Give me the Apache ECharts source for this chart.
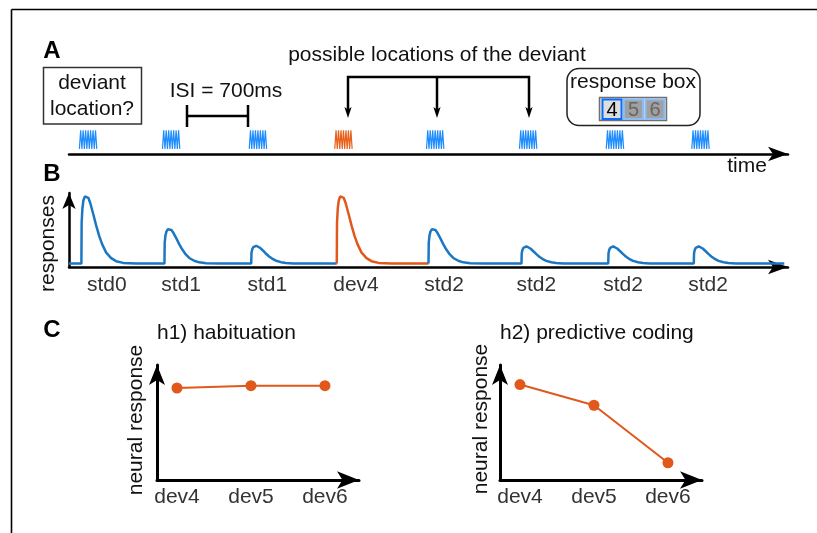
<!DOCTYPE html>
<html><head><meta charset="utf-8">
<script src="https://cdn.jsdelivr.net/npm/echarts@6/dist/echarts.min.js"></script>
<style>html,body{margin:0;padding:0;background:#fff}#c{width:817px;height:533px}</style>
</head><body><div id="c"></div>
<script>
// ---------------- data ----------------
const stimNames = ['std0', 'std1', 'std1', 'dev4', 'std2', 'std2', 'std2', 'std2'];
const stimOnsetsMs = [100, 770, 1470, 2160, 2900, 3650, 4350, 5040];
const stimLabelMs = [305, 905, 1600, 2315, 3025, 3770, 4470, 5155];
const stimAmplitudes = [1.0, 0.51, 0.26, 1.0, 0.51, 0.25, 0.25, 0.25];
const deviantIndex = 3;
const timeEndMs = 5770;
const timeAxisMaxMs = 5800;
// normalised response shape (ms after onset, fraction of peak), read from std0
const pulseShapeMs  = [0, 2, 8, 16, 28, 40, 56, 72, 96, 120, 144, 168, 200, 240, 280, 337, 441];
const pulseShapeVal = [0, 0.6, 0.8, 0.92, 0.98, 1.0, 0.96, 0.88, 0.72, 0.55, 0.40, 0.28, 0.16, 0.08, 0.035, 0.01, 0];
// tone glyph (ms after onset, level)
const toneGlyphMs    = [-16, -6, 4, 14, 24, 34, 44, 54, 64, 74, 84, 94, 104, 114, 124];
const toneGlyphLevel = [0.15, 0.7, 0.15, 0.7, 0.15, 0.7, 0.15, 0.7, 0.15, 0.7, 0.15, 0.7, 0.15, 0.7, 0.15];
// panel C
const devCategories = ['dev4', 'dev5', 'dev6'];
const habituationValues = [0.80, 0.82, 0.82];
const predictiveValues = [0.83, 0.65, 0.15];

// ---------------- styles ----------------
const F = "'Liberation Sans', Arial, Helvetica, sans-serif";
const BLUE = '#1c77c3', ORANGE = '#e0581c', TONE_BLUE = '#1e8cff', TONE_ORANGE = '#e8601c';

function pulsePoints(i) {
  return pulseShapeMs.map((t, k) => [stimOnsetsMs[i] + t, stimAmplitudes[i] * pulseShapeVal[k]]);
}
const blue1 = [[0, 0]];
for (let i = 0; i < deviantIndex; i++) blue1.push(...pulsePoints(i));
blue1.push([stimOnsetsMs[deviantIndex], 0]);
const orange = pulsePoints(deviantIndex);
orange.push([stimOnsetsMs[deviantIndex + 1], 0]);
const blue2 = [];
for (let i = deviantIndex + 1; i < stimOnsetsMs.length; i++) blue2.push(...pulsePoints(i));
blue2.push([timeEndMs, 0]);

const series = [];
stimOnsetsMs.forEach((on, i) => {
  series.push({
    type: 'line', xAxisIndex: 0, yAxisIndex: 0, symbol: 'none', silent: true,
    lineStyle: { color: i === deviantIndex ? TONE_ORANGE : TONE_BLUE, width: 1.2 },
    data: toneGlyphMs.map((t, k) => [on + t, toneGlyphLevel[k]])
  });
});
series.push(
  { type: 'line', xAxisIndex: 1, yAxisIndex: 1, symbol: 'none', data: blue1, lineStyle: { color: BLUE, width: 2.5 } },
  { type: 'line', xAxisIndex: 1, yAxisIndex: 1, symbol: 'none', data: orange, lineStyle: { color: ORANGE, width: 2.5 } },
  { type: 'line', xAxisIndex: 1, yAxisIndex: 1, symbol: 'none', data: blue2, lineStyle: { color: BLUE, width: 2.5 } },
  { type: 'line', xAxisIndex: 2, yAxisIndex: 2, symbol: 'circle', symbolSize: 11,
    itemStyle: { color: ORANGE }, lineStyle: { color: ORANGE, width: 2 },
    data: habituationValues.map((v, i) => [i, v]) },
  { type: 'line', xAxisIndex: 3, yAxisIndex: 3, symbol: 'circle', symbolSize: 11,
    itemStyle: { color: ORANGE }, lineStyle: { color: ORANGE, width: 2 },
    data: predictiveValues.map((v, i) => [i, v]) }
);

function axisLine(w, size) {
  return { show: true, onZero: false, symbol: ['none', 'arrow'], symbolSize: size, lineStyle: { color: '#000', width: w } };
}
const noStuff = { axisTick: { show: false }, splitLine: { show: false } };

const xAxis = [
  Object.assign({ gridIndex: 0, type: 'value', min: 0, max: timeAxisMaxMs, axisLine: axisLine(2.5, [11, 20]), axisLabel: { show: false } }, noStuff),
  Object.assign({ gridIndex: 1, type: 'value', min: 0, max: timeAxisMaxMs, axisLine: axisLine(2.5, [11, 20]),
    axisLabel: { show: true, customValues: stimLabelMs, margin: 8, color: '#333', fontSize: 21, fontFamily: F,
      formatter: (v) => stimNames[stimLabelMs.indexOf(v)] || '' } }, noStuff),
  Object.assign({ gridIndex: 2, type: 'value', min: -0.27, max: 2.46, axisLine: axisLine(3, [13, 22]),
    axisLabel: { show: true, customValues: [0, 1, 2], margin: 7, color: '#333', fontSize: 21, fontFamily: F,
      formatter: (v) => devCategories[v] || '' } }, noStuff),
  Object.assign({ gridIndex: 3, type: 'value', min: -0.27, max: 2.46, axisLine: axisLine(3, [13, 22]),
    axisLabel: { show: true, customValues: [0, 1, 2], margin: 7, color: '#333', fontSize: 21, fontFamily: F,
      formatter: (v) => devCategories[v] || '' } }, noStuff)
];
const yAxis = [
  { gridIndex: 0, type: 'value', min: 0, max: 1, show: false },
  Object.assign({ gridIndex: 1, type: 'value', min: -0.05, max: 1.03, axisLine: axisLine(2.5, [10, 16]), axisLabel: { show: false } }, noStuff),
  Object.assign({ gridIndex: 2, type: 'value', min: 0, max: 1, axisLine: axisLine(3, [12, 20]), axisLabel: { show: false } }, noStuff),
  Object.assign({ gridIndex: 3, type: 'value', min: 0, max: 1, axisLine: axisLine(3, [12, 20]), axisLabel: { show: false } }, noStuff)
];

function txt(text, x, y, o) {
  o = o || {};
  const align = o.align || 'center';
  return { type: 'text', x: x, y: y, rotation: o.rot || 0, z: 100,
    style: { text: text, fill: o.color || '#111', font: (o.weight || 'normal') + ' ' + (o.size || 21) + 'px ' + F,
      textAlign: align, textVerticalAlign: 'middle', align: align, verticalAlign: 'middle' } };
}
function ln(x1, y1, x2, y2, w, c) {
  return { type: 'line', z: 100, shape: { x1, y1, x2, y2 }, style: { stroke: c || '#000', lineWidth: w } };
}
function rect(x, y, w, h, st, r) {
  return { type: 'rect', z: 99, shape: { x, y, width: w, height: h, r: r || 0 }, style: st };
}
function arrowDown(x) {
  return { type: 'polygon', z: 101, shape: { points: [[x - 3.6, 107], [x, 118], [x + 3.6, 107], [x, 109.5]] }, style: { fill: '#000' } };
}

const graphics = [
  ln(11.5, 9.5, 817, 9.5, 1.6), ln(11.5, 9.5, 11.5, 533, 1.6),
  txt('A', 52, 51, { weight: 'bold', size: 24, color: '#000' }),
  txt('B', 52, 174, { weight: 'bold', size: 24, color: '#000' }),
  txt('C', 52, 330, { weight: 'bold', size: 24, color: '#000' }),
  rect(43.5, 67.5, 98, 56.5, { fill: 'none', stroke: '#333', lineWidth: 1.5 }),
  txt('deviant', 92, 83), txt('location?', 92, 109.5),
  txt('ISI = 700ms', 226, 91),
  ln(187, 105, 187, 127, 2.5), ln(248, 105, 248, 127, 2.5), ln(187, 116, 248, 116, 2.5),
  txt('possible locations of the deviant', 437, 55.5),
  { type: 'polyline', z: 100, shape: { points: [[348, 110], [348, 77], [529, 77], [529, 110]] }, style: { stroke: '#000', lineWidth: 2.5, fill: 'none' } },
  ln(437, 77, 437, 110, 2.5),
  arrowDown(348), arrowDown(437), arrowDown(529),
  rect(567, 68.5, 133, 57, { fill: 'none', stroke: '#222', lineWidth: 1.5 }, 12),
  txt('response box', 633, 82),
  rect(599.5, 97.5, 67, 23, { fill: '#e4e4e4', stroke: '#707070', lineWidth: 1.5 }),
  rect(602.5, 99.5, 19, 19.5, { fill: '#dedede', stroke: '#0a6cff', lineWidth: 2 }),
  rect(624, 99.5, 19, 19.5, { fill: '#a0a0a0', stroke: '#8cbcf5', lineWidth: 2 }),
  rect(645.5, 99.5, 19, 19.5, { fill: '#a0a0a0', stroke: '#8cbcf5', lineWidth: 2 }),
  txt('4', 612, 110, { size: 20, color: '#000' }),
  txt('5', 633.5, 110, { size: 20, color: '#666' }),
  txt('6', 655, 110, { size: 20, color: '#666' }),
  txt('time', 747, 166),
  txt('responses', 48, 243.5, { rot: Math.PI / 2 }),
  txt('h1) habituation', 157, 333, { align: 'left' }),
  txt('h2) predictive coding', 500, 333, { align: 'left' }),
  txt('neural response', 136, 420, { rot: Math.PI / 2 }),
  txt('neural response', 481, 419, { rot: Math.PI / 2 })
];

const chart = echarts.init(document.getElementById('c'), null, { renderer: 'canvas' });
chart.setOption({
  animation: false,
  backgroundColor: '#fff',
  grid: [
    { left: 69, top: 120, width: 719, height: 34 },
    { left: 69, top: 193, width: 719, height: 74 },
    { left: 157, top: 365, width: 202, height: 115 },
    { left: 500, top: 365, width: 202, height: 115 }
  ],
  xAxis: xAxis,
  yAxis: yAxis,
  series: series,
  graphic: { elements: graphics }
});
</script></body></html>
